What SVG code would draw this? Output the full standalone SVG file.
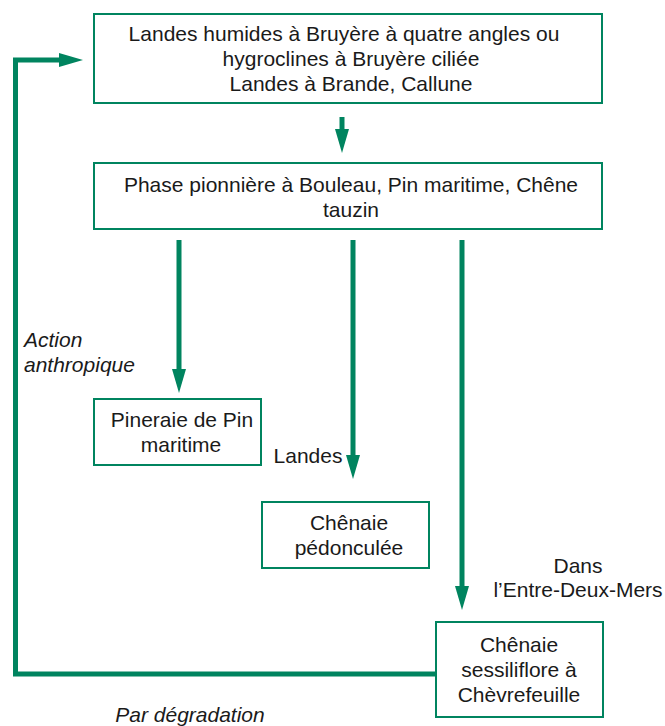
<svg xmlns="http://www.w3.org/2000/svg" width="665" height="726" viewBox="0 0 665 726">
<style>
.box{fill:#fff;stroke:#00845f;stroke-width:2}
.t{font-family:"Liberation Sans",Arial,sans-serif;font-size:21px;fill:#1a1a1a;text-anchor:middle}
.i{font-style:italic}
.c{fill:none;stroke:#00845f;stroke-width:5}
</style>
<defs>
<marker id="ah" markerUnits="userSpaceOnUse" markerWidth="24" markerHeight="14" refX="4" refY="7" orient="auto" viewBox="0 0 24 14">
<path d="M0,0 L24,7 L0,14 z" fill="#00845f"/>
</marker>
</defs>
<rect width="665" height="726" fill="#fff"/>
<g id="connectors">
<line class="c" x1="342" y1="117" x2="342" y2="133" marker-end="url(#ah)"/>
<line class="c" x1="179" y1="240" x2="179" y2="373" marker-end="url(#ah)"/>
<line class="c" x1="353" y1="240" x2="353" y2="459" marker-end="url(#ah)"/>
<line class="c" x1="462" y1="240" x2="462" y2="590" marker-end="url(#ah)"/>
<path class="c" d="M435,674 H15.5 V60 H63" marker-end="url(#ah)"/>
</g>
<g id="landes-humides">
<rect class="box" x="94" y="14" width="508" height="89"/>
<text class="t" x="344" y="41">Landes humides à Bruyère à quatre angles ou</text>
<text class="t" x="351" y="66">hygroclines à Bruyère ciliée</text>
<text class="t" x="351" y="91">Landes à Brande, Callune</text>
</g>
<g id="phase-pionniere">
<rect class="box" x="94" y="163" width="508" height="66"/>
<text class="t" x="351" y="192">Phase pionnière à Bouleau, Pin maritime, Chêne</text>
<text class="t" x="351" y="217">tauzin</text>
</g>
<g id="pineraie">
<rect class="box" x="94" y="399" width="167" height="66"/>
<text class="t" x="182" y="427">Pineraie de Pin</text>
<text class="t" x="181" y="452">maritime</text>
</g>
<g id="chenaie-pedonculee">
<rect class="box" x="262" y="502" width="167" height="66"/>
<text class="t" x="349" y="530">Chênaie</text>
<text class="t" x="349" y="555">pédonculée</text>
</g>
<g id="chenaie-sessiliflore">
<rect class="box" x="436" y="622" width="167" height="95"/>
<text class="t" x="519" y="652">Chênaie</text>
<text class="t" x="519" y="677">sessiliflore à</text>
<text class="t" x="519" y="702">Chèvrefeuille</text>
</g>
<g id="labels">
<text class="t i" x="24" y="347" style="text-anchor:start">Action</text>
<text class="t i" x="24" y="372" style="text-anchor:start">anthropique</text>
<text class="t" x="308" y="463">Landes</text>
<text class="t" x="578" y="573">Dans</text>
<text class="t" x="578" y="597">l’Entre-Deux-Mers</text>
<text class="t i" x="190" y="722">Par dégradation</text>
</g>
</svg>
